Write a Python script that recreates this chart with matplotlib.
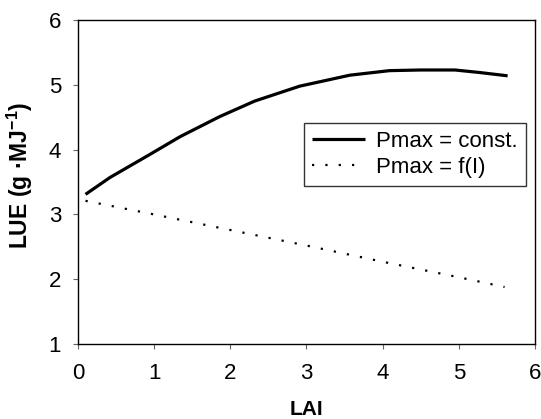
import numpy as np
import matplotlib.pyplot as plt

plt.rcParams['font.family'] = ['Liberation Sans', 'DejaVu Sans']
plt.rcParams['mathtext.fontset'] = 'custom'
plt.rcParams['mathtext.rm'] = 'Liberation Sans'
plt.rcParams['mathtext.bf'] = 'Liberation Sans:bold'

# LUE vs LAI
lai_const = [0.1, 0.42, 0.95, 1.34, 1.86, 2.32, 2.91, 3.57, 4.09, 4.5, 4.95, 5.28, 5.64]
lue_const = [3.31, 3.57, 3.93, 4.20, 4.51, 4.75, 4.98, 5.15, 5.22, 5.23, 5.23, 5.19, 5.14]

lai_fi = [0.1, 1.0, 2.0, 3.0, 4.0, 5.0, 5.6]
lue_fi = [3.21, 3.00, 2.76, 2.52, 2.27, 2.03, 1.88]

xticks = [0, 1, 2, 3, 4, 5, 6]
yticks = [1, 2, 3, 4, 5, 6]

fig = plt.figure(figsize=(5.41, 4.19), dpi=100)
ax = fig.add_axes([0.144, 0.179, 0.845, 0.773])

ax.plot(lai_const, lue_const, color='black', lw=2.3, label='Pmax = const.',
        solid_capstyle='butt')
ax.plot(lai_fi, lue_fi, color='black', lw=1.6, linestyle=(0, (1, 5)), label='Pmax = f(I)')

ax.set_xlim(0, 6)
ax.set_ylim(1, 6)
ax.set_xticks(xticks)
ax.set_yticks(yticks)
ax.tick_params(labelsize=16, length=3.5, width=0.8, direction='out', color='#666666')
ax.tick_params(axis='x', pad=10)
ax.tick_params(axis='y', pad=8.5)
ax.set_xlabel('LAI', fontsize=15, fontweight='bold', labelpad=12)
ax.set_ylabel('LUE (g ·MJ$^{\\mathbf{-1}}$)', fontsize=16.5, fontweight='bold')
ax.yaxis.set_label_coords(-0.094, 0.52)
for s in ax.spines.values():
    s.set_linewidth(1.0)

leg = ax.legend(loc='upper right', bbox_to_anchor=(0.980, 0.682), fontsize=16,
                frameon=True, fancybox=False, edgecolor='black', handlelength=2.4,
                handletextpad=0.5, borderpad=0.36, labelspacing=0.22, borderaxespad=0)
leg.get_frame().set_linewidth(1.0)

fig.savefig('out.png', dpi=100)
